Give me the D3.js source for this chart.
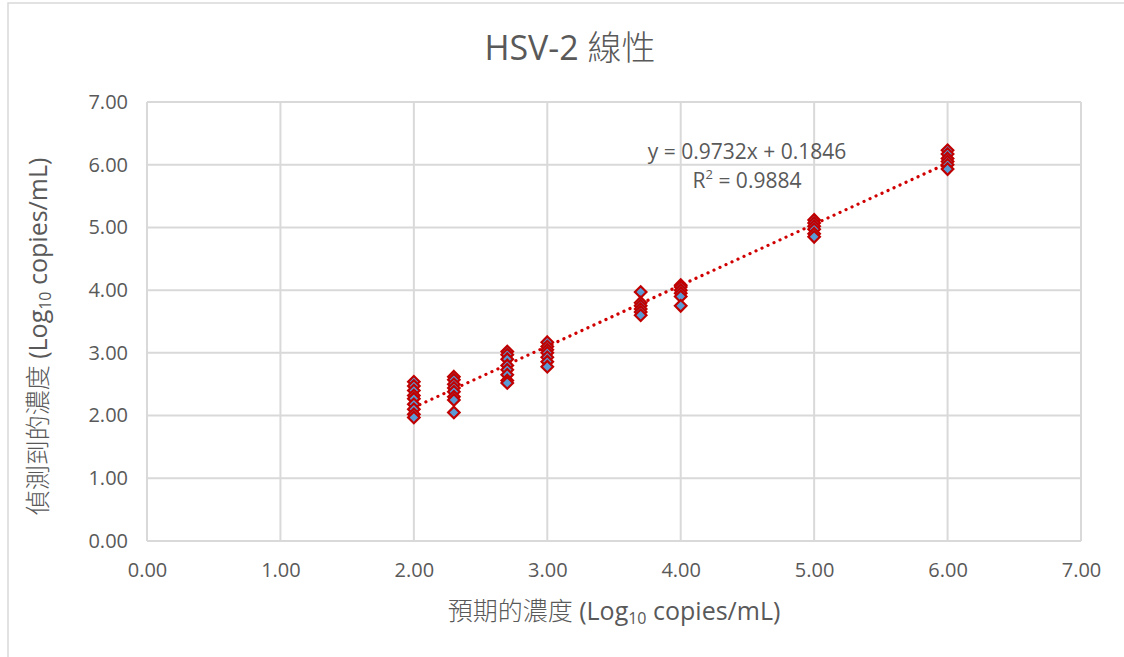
<!DOCTYPE html>
<html>
<head>
<meta charset="utf-8">
<script src="https://cdn.jsdelivr.net/npm/d3@7"></script>
<style>
  body { margin: 0; background: #fff; }
  text { font-family: "Open Sans", "Noto Sans CJK TC", sans-serif; fill: #595959; }
  .cjk { font-weight: 300; }
</style>
</head>
<body>
<div id="chart"></div>
<script>
// Expected concentration (log10 copies/mL) for each dilution level
var expected = [2.00, 2.30, 2.70, 3.00, 3.70, 4.00, 5.00, 6.00];

var measured2_0 = [2.54, 2.47, 2.40, 2.32, 2.27, 2.18, 2.10, 2.02, 1.97];
var measured2_3 = [2.62, 2.57, 2.50, 2.44, 2.38, 2.30, 2.25, 2.05];
var measured2_7 = [3.02, 2.97, 2.90, 2.80, 2.73, 2.65, 2.56, 2.52];
var measured3_0 = [3.17, 3.10, 3.05, 3.00, 2.93, 2.86, 2.78];
var measured3_7 = [3.97, 3.80, 3.75, 3.70, 3.65, 3.60];
var measured4_0 = [4.08, 4.05, 4.00, 3.95, 3.90, 3.75];
var measured5_0 = [5.12, 5.07, 5.02, 4.97, 4.90, 4.85];
var measured6_0 = [6.23, 6.17, 6.10, 6.05, 6.00, 5.93];
var measured = [measured2_0, measured2_3, measured2_7, measured3_0,
                measured3_7, measured4_0, measured5_0, measured6_0];

// Trendline fit shown on the chart
var slope = 0.9732, intercept = 0.1846, rSquared = 0.9884;

// Axis ticks
var xTicks = [0, 1, 2, 3, 4, 5, 6, 7];
var yTicks = [0, 1, 2, 3, 4, 5, 6, 7];

var width = 1124, height = 657;
var margin = {top: 102, right: 43, bottom: 116, left: 147};
var w = width - margin.left - margin.right;
var h = height - margin.top - margin.bottom;

var svg = d3.select("#chart")
    .append("svg")
    .attr("width", width)
    .attr("height", height);

// chart frame
svg.append("rect")
    .attr("x", 8).attr("y", 3)
    .attr("width", width).attr("height", height)
    .attr("fill", "none")
    .attr("stroke", "#d9d9d9")
    .attr("stroke-width", 1.5);

var g = svg.append("g")
    .attr("transform", "translate(" + margin.left + "," + margin.top + ")");

var xScale = d3.scaleLinear().domain([0, 7]).range([0, w]);
var yScale = d3.scaleLinear().domain([0, 7]).range([h, 0]);

// Gridlines
g.selectAll(".vgrid")
    .data(xTicks)
    .enter()
    .append("line")
    .attr("x1", d => xScale(d)).attr("x2", d => xScale(d))
    .attr("y1", 0).attr("y2", h)
    .attr("stroke", "#d9d9d9")
    .attr("stroke-width", 2);

g.selectAll(".hgrid")
    .data(yTicks)
    .enter()
    .append("line")
    .attr("x1", 0).attr("x2", w)
    .attr("y1", d => yScale(d)).attr("y2", d => yScale(d))
    .attr("stroke", "#d9d9d9")
    .attr("stroke-width", 2);

// Axes (labels only, Excel style)
var xAxis = d3.axisBottom(xScale).tickValues(xTicks).tickFormat(d3.format(".2f")).tickSize(0).tickPadding(22);
var xg = g.append("g").attr("transform", "translate(0," + h + ")").call(xAxis);
xg.select(".domain").remove();
xg.selectAll("text").style("font-size", "20px").attr("fill", "#595959");

var yAxis = d3.axisLeft(yScale).tickValues(yTicks).tickFormat(d3.format(".2f")).tickSize(0).tickPadding(19);
var yg = g.append("g").call(yAxis);
yg.select(".domain").remove();
yg.selectAll("text").style("font-size", "20px").attr("fill", "#595959");

// Trendline
var x0 = d3.min(expected), x1 = d3.max(expected);
g.append("line")
    .attr("x1", xScale(x0)).attr("y1", yScale(slope * x0 + intercept))
    .attr("x2", xScale(x1)).attr("y2", yScale(slope * x1 + intercept))
    .attr("stroke", "#d00000")
    .attr("stroke-width", 3.2)
    .attr("stroke-linecap", "round")
    .attr("stroke-dasharray", "0.1 6.5");

// Points
var points = [];
expected.forEach(function(x, i) {
    measured[i].forEach(function(y) { points.push({x: x, y: y}); });
});

var diamond = d3.symbol().type(d3.symbolDiamond2).size(85);
g.selectAll(".pt")
    .data(points)
    .enter()
    .append("path")
    .attr("d", diamond)
    .attr("transform", d => "translate(" + xScale(d.x) + "," + yScale(d.y) + ")")
    .attr("fill", "#5b9bd5")
    .attr("stroke", "#c00000")
    .attr("stroke-width", 2.2);

// Trendline label
var eq = g.append("text")
    .attr("x", 600).attr("y", 57)
    .attr("text-anchor", "middle")
    .style("font-size", "21px")
    .text("y = " + slope + "x + " + intercept);

var r2 = g.append("text")
    .attr("x", 600).attr("y", 86)
    .attr("text-anchor", "middle")
    .style("font-size", "21px");
r2.append("tspan").text("R");
r2.append("tspan").attr("dy", -9).style("font-size", "13px").text("2");
r2.append("tspan").attr("dy", 9).text(" = " + rSquared);

// Title (centered on the whole chart area)
var title = svg.append("text")
    .attr("x", 570).attr("y", 60)
    .attr("text-anchor", "middle")
    .style("font-size", "34px");
title.append("tspan").text("HSV-2 ");
title.append("tspan").attr("class", "cjk").text("線性");

// X axis title
var xt = svg.append("text")
    .attr("x", margin.left + w / 2).attr("y", 620)
    .attr("text-anchor", "middle")
    .style("font-size", "25px");
xt.append("tspan").attr("class", "cjk").text("預期的濃度");
xt.append("tspan").text(" (Log");
xt.append("tspan").attr("dy", 4).style("font-size", "16px").text("10");
xt.append("tspan").attr("dy", -4).text(" copies/mL)");

// Y axis title
var yt = svg.append("text")
    .attr("transform", "translate(47," + (margin.top + h / 2 + 15) + ") rotate(-90)")
    .attr("text-anchor", "middle")
    .style("font-size", "25px");
yt.append("tspan").attr("class", "cjk").text("偵測到的濃度");
yt.append("tspan").text(" (Log");
yt.append("tspan").attr("dy", 4).style("font-size", "16px").text("10");
yt.append("tspan").attr("dy", -4).text(" copies/mL)");
</script>
</body>
</html>
